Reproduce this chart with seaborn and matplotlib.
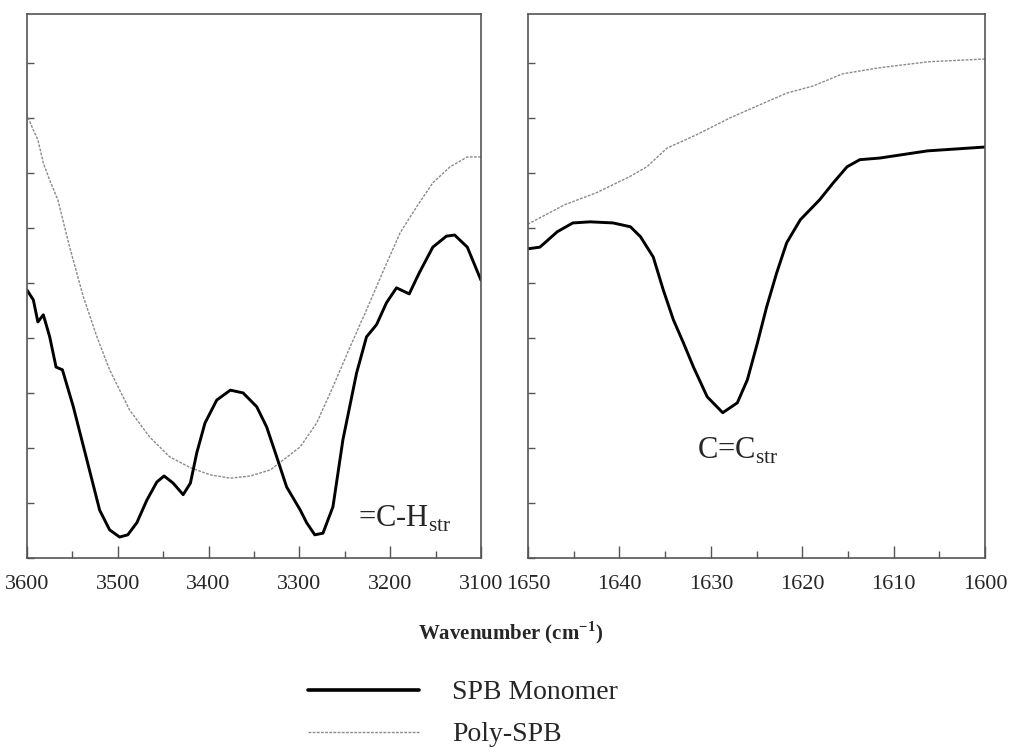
import numpy as np
import pandas as pd
import matplotlib
matplotlib.use('Agg')
import matplotlib.pyplot as plt
from matplotlib.lines import Line2D
from matplotlib.ticker import MultipleLocator
import seaborn as sns

# ── Data (transmittance in arbitrary %) ──────────────────────────────────
wn_ch = [3600, 3593, 3588, 3582, 3575, 3568, 3561, 3549, 3534, 3520, 3509, 3498,
         3489, 3479, 3468, 3457, 3449, 3439, 3428, 3420, 3413, 3404, 3391, 3376,
         3362, 3347, 3336, 3325, 3314, 3299, 3292, 3283, 3274, 3263, 3252, 3237,
         3226, 3215, 3204, 3193, 3179, 3168, 3153, 3138, 3129, 3115, 3100]
mono_ch = [48.7, 46.9, 42.9, 44.2, 40.2, 34.7, 34.2, 27.5, 17.8, 8.7, 5.1, 3.8,
           4.2, 6.4, 10.5, 13.8, 14.9, 13.6, 11.5, 13.6, 19.1, 24.5, 28.7, 30.5,
           30.0, 27.5, 23.8, 18.4, 12.9, 8.7, 6.4, 4.2, 4.5, 9.3, 21.5, 33.6,
           40.2, 42.4, 46.4, 49.1, 48.0, 51.8, 56.5, 58.5, 58.7, 56.5, 50.5]

wn_ch_poly = [3600, 3593, 3588, 3582, 3575, 3566, 3553, 3538, 3523, 3509, 3487,
              3465, 3443, 3420, 3398, 3376, 3354, 3332, 3299, 3281, 3263,
              3244, 3226, 3207, 3189, 3171, 3153, 3134, 3115, 3100]
poly_ch = [80.5, 77.8, 76.0, 71.8, 68.7, 65.1, 56.5, 47.5, 40.2, 34.2, 26.9,
           22.0, 18.4, 16.4, 15.1, 14.5, 14.9, 16.0, 20.2, 24.5, 31.1,
           38.4, 45.1, 52.4, 59.1, 63.8, 68.2, 71.1, 72.9, 72.9]

wn_cc = [1650, 1648.7, 1646.8, 1645.1, 1643.2, 1640.7, 1638.8, 1637.7, 1636.3,
         1635.2, 1634.1, 1633.0, 1631.9, 1630.4, 1628.7, 1627.1, 1626.0, 1624.9,
         1623.9, 1622.8, 1621.7, 1620.2, 1618.1, 1616.6, 1615.1, 1613.7, 1611.5,
         1606.3, 1600]
mono_cc = [56.2, 56.5, 59.3, 60.9, 61.1, 60.9, 60.2, 58.4, 54.7,
           48.7, 43.3, 39.1, 34.7, 29.3, 26.4, 28.2, 32.4, 39.1,
           45.6, 51.8, 57.3, 61.5, 65.1, 68.2, 71.1, 72.4, 72.7,
           74.0, 74.7]

wn_cc_poly = [1650, 1646, 1642.5, 1638.9, 1637, 1634.8, 1631.6, 1627.9, 1624.2,
              1621.7, 1618.8, 1615.6, 1611.6, 1606.2, 1600]
poly_cc = [60.7, 64.2, 66.4, 69.3, 71.1, 74.5, 76.9, 80.0, 82.7,
           84.5, 85.8, 88.0, 89.1, 90.2, 90.7]

# ── Style ────────────────────────────────────────────────────
sns.set_style("ticks")
plt.rcParams['font.family'] = ['Liberation Serif', 'DejaVu Serif']
plt.rcParams['mathtext.fontset'] = 'custom'
plt.rcParams['mathtext.rm'] = 'Liberation Serif'
plt.rcParams['mathtext.bf'] = 'Liberation Serif:bold'

MONO_KW = dict(color='black', linewidth=2.1, solid_joinstyle='round')
POLY_KW = dict(color='#8a8a8a', linewidth=1.0, linestyle=(0, (2, 1)))

fig = plt.figure(figsize=(10.11, 7.56), dpi=100)
ax1 = fig.add_axes([0.0267, 0.262, 0.449, 0.7196])
ax2 = fig.add_axes([0.5223, 0.262, 0.452, 0.7196])

sns.lineplot(x=wn_ch_poly, y=poly_ch, ax=ax1, estimator=None, **POLY_KW)
sns.lineplot(x=wn_ch, y=mono_ch, ax=ax1, estimator=None, **MONO_KW)
sns.lineplot(x=wn_cc_poly, y=poly_cc, ax=ax2, estimator=None, **POLY_KW)
sns.lineplot(x=wn_cc, y=mono_cc, ax=ax2, estimator=None, **MONO_KW)

ax1.set_xlim(3600, 3100)
ax2.set_xlim(1650, 1600)
ax1.xaxis.set_major_locator(MultipleLocator(100))
ax1.xaxis.set_minor_locator(MultipleLocator(50))
ax2.xaxis.set_major_locator(MultipleLocator(10))
ax2.xaxis.set_minor_locator(MultipleLocator(5))

for ax in (ax1, ax2):
    ax.set_ylim(0, 98.9)
    ax.yaxis.set_major_locator(MultipleLocator(10))
    ax.set_yticklabels([])
    ax.set_xlabel('')
    ax.set_ylabel('')
    for sp in ax.spines.values():
        sp.set_visible(True)
        sp.set_color('#555555')
        sp.set_linewidth(1.2)
    ax.tick_params(axis='x', which='major', direction='in', length=9, width=1,
                   color='#555555', labelsize=16, pad=12)
    ax.tick_params(axis='x', which='minor', direction='in', length=5, width=1,
                   color='#555555')
    ax.tick_params(axis='y', which='major', direction='in', length=5, width=1,
                   color='#555555')

ax1.text(3235, 7.0, r'=C-H$_{\mathrm{str}}$', fontsize=22, ha='left', va='center')
ax2.text(1631.5, 19.5, r'C=C$_{\mathrm{str}}$', fontsize=22, ha='left', va='center')

fig.text(0.505, 0.163, r'Wavenumber (cm$^{\mathbf{-1}}$)', fontsize=15,
         fontweight='bold', ha='center', va='center')

handles = [Line2D([], [], color='black', linewidth=2.6), Line2D([], [], **POLY_KW)]
fig.legend(handles, ['SPB Monomer', 'Poly-SPB'], loc='center',
           bbox_to_anchor=(0.458, 0.056), frameon=False, fontsize=20,
           handlelength=4.0, handletextpad=1.2, labelspacing=0.6)

plt.savefig('out.png', dpi=100)
plt.close()
